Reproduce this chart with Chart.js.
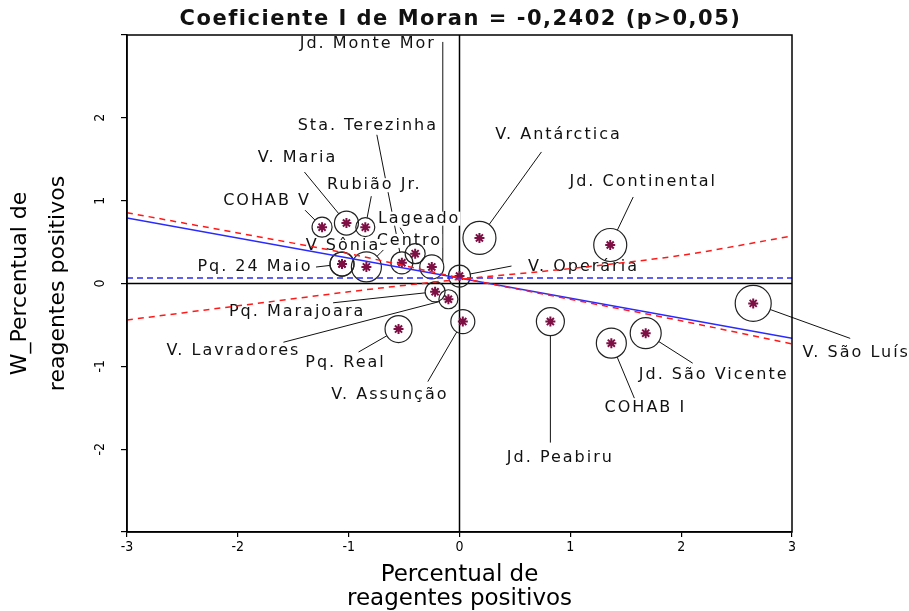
<!DOCTYPE html>
<html>
<head>
<meta charset="utf-8">
<script src="https://cdn.jsdelivr.net/npm/chart.js@4.4.0/dist/chart.umd.min.js"></script>
<style>
  html, body { margin: 0; padding: 0; background: #fff; }
</style>
</head>
<body>
<canvas id="moran" width="909" height="611"></canvas>
<script>
// bairros and their standardized values
var names = ['COHAB V', 'V. Maria', 'Rubião Jr.', 'Lageado', 'Sta. Terezinha', 'Centro', 'Pq. 24 Maio', 'V Sônia',
    'Jd. Monte Mor', 'V. Operária', 'V. Antárctica', 'Jd. Continental', 'Pq. Marajoara', 'V. Lavradores',
    'Pq. Real', 'V. Assunção', 'Jd. Peabiru', 'COHAB I', 'Jd. São Vicente', 'V. São Luís'];
var pctPositive = [-1.24, -1.02, -0.85, -0.40, -0.52, -0.84, -1.06, -1.06,
    -0.25, 0.00, 0.18, 1.36, -0.22, -0.10,
    -0.55, 0.03, 0.82, 1.37, 1.68, 2.65];
var wPctPositive = [0.68, 0.73, 0.68, 0.36, 0.25, 0.20, 0.235, 0.235,
    0.20, 0.09, 0.55, 0.465, -0.10, -0.19,
    -0.55, -0.46, -0.46, -0.72, -0.60, -0.24];
var circleSize = [10, 12, 9.5, 10, 11, 15, 12, 12,
    12, 11, 16.5, 16.5, 10, 9.5,
    13.5, 12, 14, 15, 15.5, 18];

// regression line, mean line and the two red bands
var fitX = [-3, 3];
var fitY = [0.79, -0.66];
var meanY = [0.065, 0.065];
var bandX = [-3, -2, -1, 0, 1, 2, 3];
var bandAY = [0.855, 0.61, 0.36, 0.07, -0.19, -0.45, -0.73];
var bandBY = [-0.44, -0.27, -0.10, 0.05, 0.18, 0.34, 0.574];

var axisTicks = [-3, -2, -1, 0, 1, 2, 3];

// label placement in px relative to the point: text dx, dy, leader start dx, dy [, leader end dx, dy]
var labelLayout = [
    [-56, -26, -17, -17],
    [-50, -65, -42, -51],
    [8, -42, 6, -31],
    [3, -35, -15, -26],
    [-35, -137, -25, -128],
    [42, -26, 17, -17],
    [-88, 3, -26, 3],
    [0, -18, null, null],
    [-65, -223, 11, -225, 11, -5],
    [123, -9, 52, -10],
    [78, -103, 62, -86],
    [32, -63, 23, -48],
    [-139, 20, -102, 11],
    [-216, 52, -165, 43],
    [-54, 34, -40, 23],
    [-74, 73, -35, 60],
    [9, 136, 0, 121],
    [33, 65, 23, 55],
    [67, 42, 47, 30],
    [102, 49, 97, 35]
];

function pairs(xs, ys) {
    return xs.map(function (x, i) { return { x: x, y: ys[i] }; });
}

var moranPlugin = {
    id: 'moranPlugin',
    beforeDatasetsDraw: function (chart) {
        var ctx = chart.ctx, area = chart.chartArea;
        var xs = chart.scales.x, ys = chart.scales.y;
        ctx.save();

        var x0 = xs.getPixelForValue(0), y0 = ys.getPixelForValue(0);
        ctx.strokeStyle = '#000';
        ctx.lineWidth = 1.5;
        ctx.beginPath();
        ctx.moveTo(x0, area.top); ctx.lineTo(x0, area.bottom);
        ctx.moveTo(area.left, y0); ctx.lineTo(area.right, y0);
        ctx.stroke();

        // leader lines
        ctx.strokeStyle = '#111';
        ctx.lineWidth = 1;
        names.forEach(function (n, i) {
            var L = labelLayout[i];
            if (L[2] === null) return;
            var px = xs.getPixelForValue(pctPositive[i]), py = ys.getPixelForValue(wPctPositive[i]);
            var ex, ey;
            if (L.length > 4) {
                ex = px + L[4]; ey = py + L[5];
            } else {
                var d = Math.hypot(L[2], L[3]);
                ex = px + L[2] / d * circleSize[i];
                ey = py + L[3] / d * circleSize[i];
            }
            ctx.beginPath();
            ctx.moveTo(px + L[2], py + L[3]);
            ctx.lineTo(ex, ey);
            ctx.stroke();
        });

        // labels (white box hides leaders passing behind)
        ctx.font = '16px "DejaVu Sans"';
        ctx.letterSpacing = '2px';
        ctx.textAlign = 'center';
        ctx.textBaseline = 'middle';
        names.forEach(function (n, i) {
            var L = labelLayout[i];
            var tx = xs.getPixelForValue(pctPositive[i]) + L[0];
            var ty = ys.getPixelForValue(wPctPositive[i]) + L[1];
            var w = ctx.measureText(n).width;
            ctx.fillStyle = '#fff';
            ctx.fillRect(tx - w / 2 - 1, ty - 7, w + 2, 14);
            ctx.fillStyle = '#111';
            ctx.fillText(n, tx + 1, ty);
        });
        ctx.restore();
    },
    afterDraw: function (chart) {
        var ctx = chart.ctx, area = chart.chartArea, ys = chart.scales.y;
        ctx.save();
        ctx.strokeStyle = '#000';
        ctx.lineWidth = 1.5;
        ctx.strokeRect(area.left, area.top, area.right - area.left, area.bottom - area.top);

        // rotated y tick labels
        ctx.fillStyle = '#000';
        ctx.font = '14px "DejaVu Sans Condensed"';
        ctx.textAlign = 'center';
        ctx.textBaseline = 'middle';
        ys.ticks.forEach(function (t) {
            if (Math.abs(t.value) >= 3) return;
            ctx.save();
            ctx.translate(100, ys.getPixelForValue(t.value));
            ctx.rotate(-Math.PI / 2);
            ctx.fillText(String(t.value), 0, 0);
            ctx.restore();
        });

        ctx.font = 'bold 21px "DejaVu Sans"';
        ctx.letterSpacing = '1.5px';
        ctx.fillStyle = '#111';
        ctx.fillText('Coeficiente I de Moran = -0,2402 (p>0,05)', (area.left + area.right) / 2 + 1, 20);
        ctx.restore();
    }
};

var ctx = document.getElementById('moran').getContext('2d');
new Chart(ctx, {
    type: 'scatter',
    data: {
        datasets: [
            {
                type: 'line', data: pairs(bandX, bandAY), borderColor: '#ff1a1a', borderWidth: 1.5,
                borderDash: [6, 5], pointRadius: 0, tension: 0.3, fill: false
            },
            {
                type: 'line', data: pairs(bandX, bandBY), borderColor: '#ff1a1a', borderWidth: 1.5,
                borderDash: [6, 5], pointRadius: 0, tension: 0.3, fill: false
            },
            {
                type: 'line', data: pairs(fitX, meanY), borderColor: '#2a2aff', borderWidth: 1.5,
                borderDash: [6, 4], pointRadius: 0, fill: false
            },
            {
                type: 'line', data: pairs(fitX, fitY), borderColor: '#2a2aff', borderWidth: 1.5,
                pointRadius: 0, fill: false
            },
            {
                data: pairs(pctPositive, wPctPositive), pointStyle: 'circle',
                pointRadius: circleSize, backgroundColor: 'rgba(0,0,0,0)',
                borderColor: '#222', borderWidth: 1.2
            },
            {
                data: pairs(pctPositive, wPctPositive), pointStyle: 'star',
                pointRadius: 5, borderColor: '#7d0f45', borderWidth: 2
            }
        ]
    },
    options: {
        responsive: false,
        animation: false,
        events: [],
        layout: { padding: { top: 35, right: 117, left: 0, bottom: 0 } },
        plugins: { legend: { display: false }, tooltip: { enabled: false } },
        scales: {
            x: {
                type: 'linear', min: -3, max: 3,
                afterFit: function (s) { s.height = 79; },
                afterBuildTicks: function (s) { s.ticks = axisTicks.map(function (v) { return { value: v }; }); },
                ticks: { color: '#000', font: { family: 'DejaVu Sans Condensed', size: 14 }, padding: 2 },
                grid: { drawOnChartArea: false, drawTicks: true, tickLength: 5, color: '#000', lineWidth: 1.2 },
                border: { color: '#000', width: 1.5 },
                title: {
                    display: true, text: ['Percentual de', 'reagentes positivos'], color: '#000',
                    font: { family: 'DejaVu Sans', size: 23, lineHeight: '24px' }, padding: { top: 0, bottom: 0 }
                }
            },
            y: {
                type: 'linear', min: -3, max: 3,
                afterFit: function (s) { s.width = 127; },
                afterBuildTicks: function (s) { s.ticks = axisTicks.map(function (v) { return { value: v }; }); },
                ticks: { display: false },
                grid: { drawOnChartArea: false, drawTicks: true, tickLength: 6, color: '#000', lineWidth: 1.2 },
                border: { color: '#000', width: 1.5 },
                title: {
                    display: true, text: ['W_Percentual de', 'reagentes positivos'], color: '#000',
                    font: { family: 'DejaVu Sans', size: 22, lineHeight: '38px' }, padding: { top: 1, bottom: 0 }
                }
            }
        }
    },
    plugins: [moranPlugin]
});
</script>
</body>
</html>
